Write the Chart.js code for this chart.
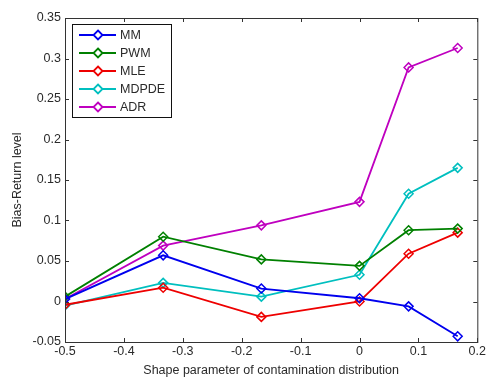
<!DOCTYPE html>
<html>
<head>
<meta charset="utf-8">
<script src="https://cdn.jsdelivr.net/npm/chart.js@4/dist/chart.umd.min.js"></script>
<style>
  html, body { margin: 0; padding: 0; background: #fff; }
  #wrap { width: 488px; height: 378px; }
</style>
</head>
<body>
<div id="wrap"><canvas id="chart" width="488" height="378"></canvas></div>
<script>
// shape parameter values (x) and bias of each estimator
const shapeParams = [-0.5, -1/3, -1/6, 0, 1/12, 1/6];
const seriesNames = ['MM', 'PWM', 'MLE', 'MDPDE', 'ADR'];
const mmBias    = [0.003, 0.057, 0.016, 0.004, -0.006, -0.043];
const pwmBias   = [0.006, 0.080, 0.052, 0.044, 0.088, 0.090];
const mleBias   = [-0.004, 0.017, -0.019, 0.000, 0.059, 0.085];
const mdpdeBias = [-0.005, 0.023, 0.006, 0.033, 0.133, 0.165];
const adrBias   = [0.003, 0.069, 0.094, 0.123, 0.289, 0.313];
const xTicks = [-0.5, -0.4, -0.3, -0.2, -0.1, 0, 0.1, 0.2];
const yTicks = [-0.05, 0, 0.05, 0.1, 0.15, 0.2, 0.25, 0.3, 0.35];

const colors = ['#0000ee', '#008000', '#ee0000', '#00bfbf', '#bf00bf'];
const allBias = [mmBias, pwmBias, mleBias, mdpdeBias, adrBias];

const fontFamily = '"Liberation Sans", Arial, sans-serif';
const textColor = '#2a2a2a';
const fmt = v => String(Number(v.toFixed(2)));

// MATLAB-like axis box with inward ticks
const boxPlugin = {
  id: 'box',
  afterDatasetsDraw(chart) {
    const { ctx, chartArea: a, scales } = chart;
    ctx.save();
    ctx.strokeStyle = '#333';
    ctx.lineWidth = 1;
    ctx.strokeRect(a.left + 0.5, a.top + 0.5, a.right - a.left, a.bottom - a.top);
    ctx.beginPath();
    xTicks.forEach(t => {
      const px = Math.round(scales.x.getPixelForValue(t)) + 0.5;
      ctx.moveTo(px, a.bottom); ctx.lineTo(px, a.bottom - 4);
      ctx.moveTo(px, a.top); ctx.lineTo(px, a.top + 4);
    });
    yTicks.forEach(t => {
      const py = Math.round(scales.y.getPixelForValue(t)) + 0.5;
      ctx.moveTo(a.left, py); ctx.lineTo(a.left + 4, py);
      ctx.moveTo(a.right, py); ctx.lineTo(a.right - 4, py);
    });
    ctx.stroke();
    ctx.restore();
  }
};

function diamond(ctx, x, y, r) {
  ctx.beginPath();
  ctx.moveTo(x, y - r); ctx.lineTo(x + r, y);
  ctx.lineTo(x, y + r); ctx.lineTo(x - r, y);
  ctx.closePath();
}

// boxed legend in the upper left corner
const legendPlugin = {
  id: 'boxLegend',
  afterDraw(chart) {
    const ctx = chart.ctx;
    const left = 72, top = 24, w = 99, h = 93;
    ctx.save();
    ctx.fillStyle = '#fff';
    ctx.fillRect(left, top, w, h);
    ctx.strokeStyle = '#111';
    ctx.lineWidth = 1;
    ctx.strokeRect(left + 0.5, top + 0.5, w, h);
    ctx.font = '12.5px ' + fontFamily;
    ctx.textBaseline = 'middle';
    seriesNames.forEach((name, i) => {
      const y = 35 + i * 18;
      ctx.strokeStyle = colors[i];
      ctx.lineWidth = 1.8;
      ctx.beginPath();
      ctx.moveTo(79, y); ctx.lineTo(116, y);
      ctx.stroke();
      ctx.fillStyle = '#fff';
      diamond(ctx, 98, y, 4.5);
      ctx.fill(); ctx.stroke();
      ctx.fillStyle = textColor;
      ctx.fillText(name, 120, y + 1);
    });
    ctx.restore();
  }
};

const datasets = seriesNames.map((name, i) => ({
  label: name,
  data: shapeParams.map((x, j) => ({ x: x, y: allBias[i][j] })),
  borderColor: colors[i],
  backgroundColor: 'rgba(255,255,255,0)',
  borderWidth: 1.8,
  pointStyle: 'rectRot',
  pointRadius: 4.5,
  pointBorderWidth: 1.5,
  pointBackgroundColor: 'rgba(255,255,255,0)',
  pointBorderColor: colors[i],
  tension: 0,
  fill: false
}));

new Chart(document.getElementById('chart'), {
  type: 'line',
  data: { datasets },
  options: {
    responsive: false,
    animation: false,
    layout: { padding: { top: 18, right: 10, left: 0, bottom: 0 } },
    plugins: { legend: { display: false }, tooltip: { enabled: false } },
    scales: {
      x: {
        type: 'linear',
        min: -0.5, max: 0.2,
        afterBuildTicks: s => { s.ticks = xTicks.map(v => ({ value: v })); },
        afterFit: s => { s.height = 36; },
        grid: { display: false, drawTicks: false },
        border: { display: false },
        ticks: {
          padding: 2,
          color: textColor,
          font: { family: fontFamily, size: 12.5 },
          callback: v => fmt(v),
          maxRotation: 0
        },
        title: {
          display: true,
          text: 'Shape parameter of contamination distribution',
          color: textColor,
          padding: { top: 0, bottom: 0 },
          font: { family: fontFamily, size: 12.5 }
        }
      },
      y: {
        min: -0.05, max: 0.35,
        afterBuildTicks: s => { s.ticks = yTicks.map(v => ({ value: v })); },
        afterFit: s => { s.width = 65; },
        grid: { display: false, drawTicks: false },
        border: { display: false },
        ticks: {
          padding: 4,
          color: textColor,
          font: { family: fontFamily, size: 12.5 },
          callback: v => fmt(v)
        },
        title: {
          display: true,
          text: 'Bias-Return level',
          color: textColor,
          padding: { top: 10, bottom: 0 },
          font: { family: fontFamily, size: 12.5 }
        }
      }
    }
  },
  plugins: [boxPlugin, legendPlugin]
});
</script>
</body>
</html>
